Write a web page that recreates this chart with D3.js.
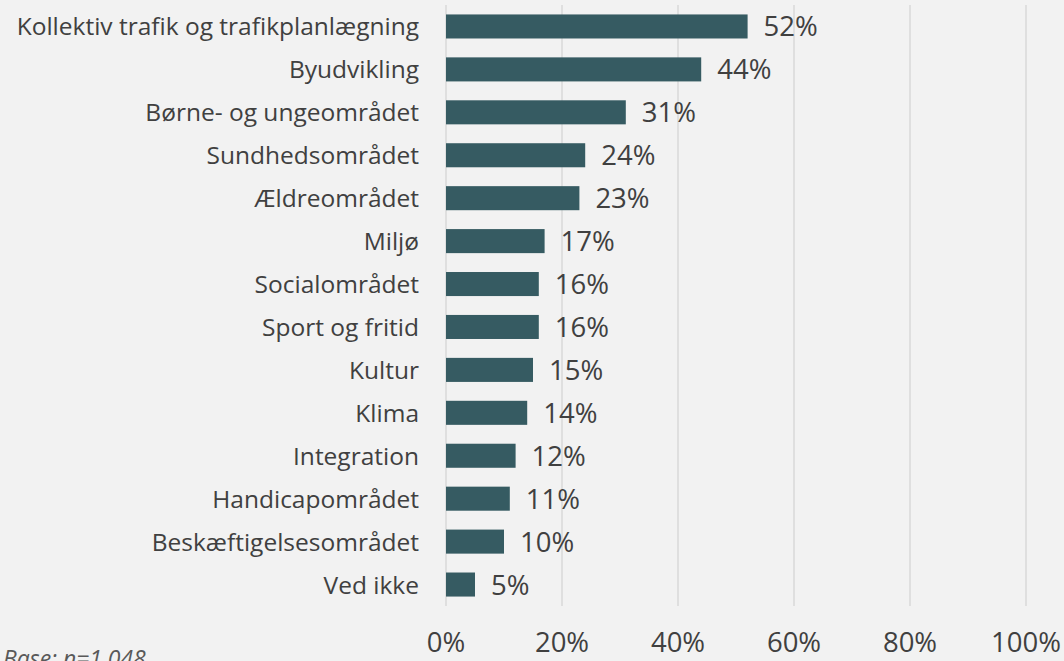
<!DOCTYPE html>
<html>
<head>
<meta charset="utf-8">
<script src="https://cdn.jsdelivr.net/npm/d3@7"></script>
<style>
  html, body { margin: 0; padding: 0; background: #f2f2f2; overflow: hidden; }
  svg { display: block; font-family: "Open Sans", sans-serif; }
</style>
</head>
<body>
<div id="chart"></div>
<script>
let width = 1064;
let height = 661;

let categories = ["Kollektiv trafik og trafikplanlægning", "Byudvikling", "Børne- og ungeområdet",
	"Sundhedsområdet", "Ældreområdet", "Miljø", "Socialområdet", "Sport og fritid", "Kultur",
	"Klima", "Integration", "Handicapområdet", "Beskæftigelsesområdet", "Ved ikke"];
let values = [52, 44, 31, 24, 23, 17, 16, 16, 15, 14, 12, 11, 10, 5];
let ticks = [0, 20, 40, 60, 80, 100];
let baseNote = "Base: n=1.048";

let svg = d3.select("#chart")
	.append("svg")
	.attr("width", width).attr("height", height);

let x = d3.scaleLinear().domain([0, 100]).range([446, 1026]);
let y = d3.scaleBand().domain(categories).range([5, 606]).paddingInner(0.44).paddingOuter(0.22);

// gridlines
svg.append("g").selectAll("line").data(ticks)
	.join("line")
	.attr("x1", d => x(d)).attr("x2", d => x(d))
	.attr("y1", 5).attr("y2", 606)
	.attr("stroke", "#d9d9d9").attr("stroke-width", 1.5);

// bars
svg.append("g").selectAll("rect").data(values)
	.join("rect")
	.attr("x", x(0))
	.attr("y", (d, i) => y(categories[i]))
	.attr("width", d => x(d) - x(0))
	.attr("height", y.bandwidth())
	.attr("fill", "#365b62");

// value labels
svg.append("g").selectAll("text").data(values)
	.join("text")
	.attr("x", d => x(d) + 16)
	.attr("y", (d, i) => y(categories[i]) + y.bandwidth() / 2 + 10)
	.attr("font-size", 27.5)
	.attr("fill", "#404040")
	.text(d => d + "%");

// category labels
svg.append("g").selectAll("text").data(categories)
	.join("text")
	.attr("x", 419)
	.attr("y", d => y(d) + y.bandwidth() / 2 + 9)
	.attr("text-anchor", "end")
	.attr("font-size", 24.5)
	.attr("fill", "#404040")
	.text(d => d);

// x axis labels
svg.append("g").selectAll("text").data(ticks)
	.join("text")
	.attr("x", d => x(d))
	.attr("y", 652)
	.attr("text-anchor", "middle")
	.attr("font-size", 27.5)
	.attr("fill", "#404040")
	.text(d => d + "%");

// base note (cut off at the bottom edge, as in the original)
svg.append("text")
	.attr("x", 3).attr("y", 667)
	.attr("font-size", 23)
	.attr("font-style", "italic")
	.attr("fill", "#595959")
	.text(baseNote);
</script>
</body>
</html>
